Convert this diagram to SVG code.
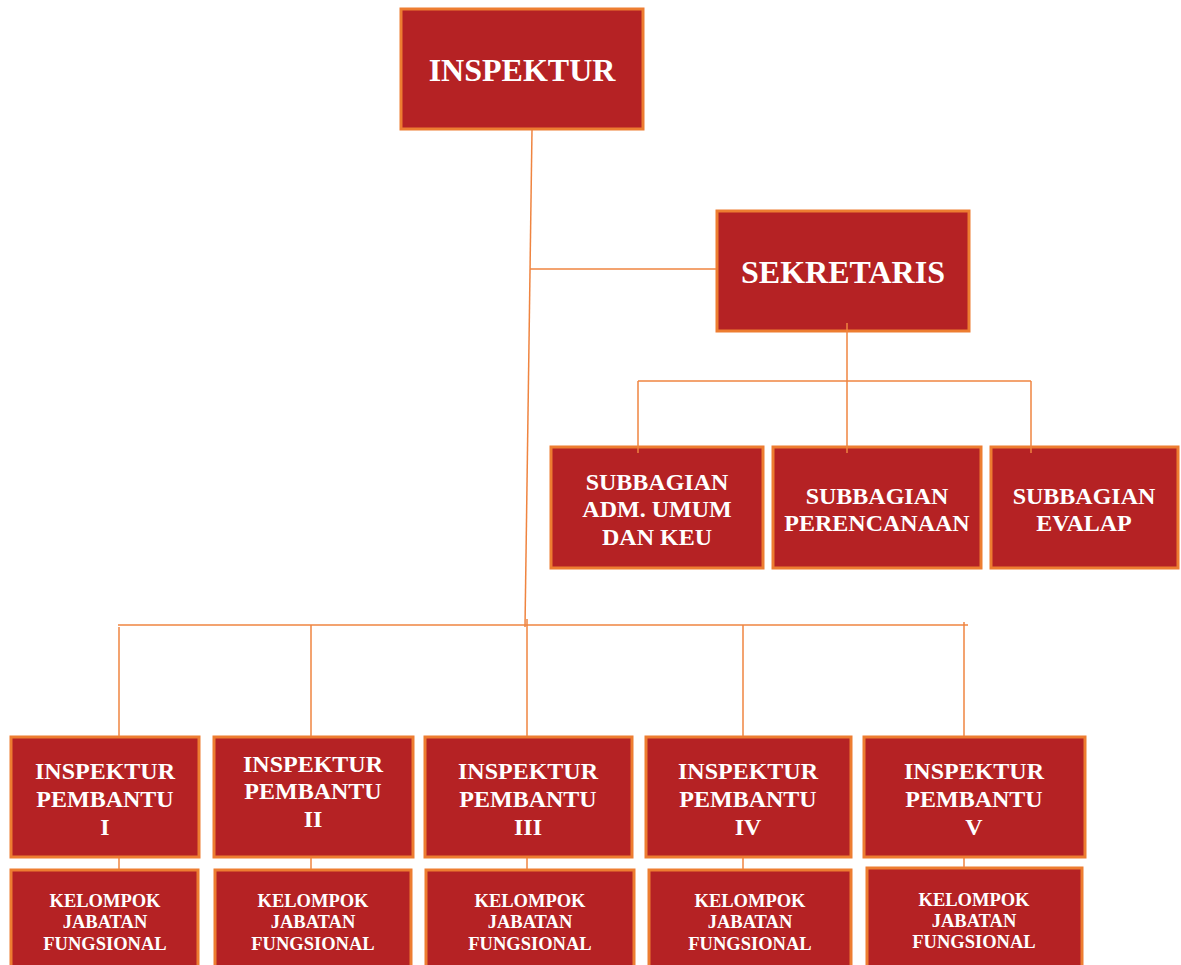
<svg xmlns="http://www.w3.org/2000/svg" width="1181" height="965" viewBox="0 0 1181 965">
<style>
.box{fill:#B52224;stroke:#ED7D31;stroke-width:3}
.t{fill:#fff;font-family:"Liberation Serif","Times New Roman",serif;font-weight:bold;text-anchor:middle}
.big{font-size:32px}
.mid{font-size:24px}
.sm{font-size:18.5px}
.ln{stroke:#EF8440;stroke-width:1.5;fill:none}
</style>
<rect width="1181" height="965" fill="#fff"/>
<g id="inspektur"><rect class="box" x="401" y="9" width="242" height="120"/><text class="t big" x="522" y="81">INSPEKTUR</text></g>
<g id="sekretaris"><rect class="box" x="717" y="211" width="252" height="120"/><text class="t big" x="843" y="283">SEKRETARIS</text></g>
<g id="sub1"><rect class="box" x="551" y="447" width="212" height="121"/><text class="t mid" x="657" y="490">SUBBAGIAN</text><text class="t mid" x="657" y="517">ADM. UMUM</text><text class="t mid" x="657" y="545">DAN KEU</text></g>
<g id="sub2"><rect class="box" x="773" y="447" width="208" height="121"/><text class="t mid" x="877" y="504">SUBBAGIAN</text><text class="t mid" x="877" y="531">PERENCANAAN</text></g>
<g id="sub3"><rect class="box" x="991" y="447" width="187" height="121"/><text class="t mid" x="1084" y="504">SUBBAGIAN</text><text class="t mid" x="1084" y="531">EVALAP</text></g>
<g id="ip1"><rect class="box" x="11" y="737" width="188" height="120"/><text class="t mid" x="105" y="779">INSPEKTUR</text><text class="t mid" x="105" y="807">PEMBANTU</text><text class="t mid" x="105" y="835">I</text></g>
<g id="ip2"><rect class="box" x="214" y="737" width="199" height="120"/><text class="t mid" x="313" y="772">INSPEKTUR</text><text class="t mid" x="313" y="799">PEMBANTU</text><text class="t mid" x="313" y="827">II</text></g>
<g id="ip3"><rect class="box" x="425" y="737" width="207" height="120"/><text class="t mid" x="528" y="779">INSPEKTUR</text><text class="t mid" x="528" y="807">PEMBANTU</text><text class="t mid" x="528" y="835">III</text></g>
<g id="ip4"><rect class="box" x="646" y="737" width="205" height="120"/><text class="t mid" x="748" y="779">INSPEKTUR</text><text class="t mid" x="748" y="807">PEMBANTU</text><text class="t mid" x="748" y="835">IV</text></g>
<g id="ip5"><rect class="box" x="864" y="737" width="221" height="120"/><text class="t mid" x="974" y="779">INSPEKTUR</text><text class="t mid" x="974" y="807">PEMBANTU</text><text class="t mid" x="974" y="835">V</text></g>
<g id="kjf1"><rect class="box" x="11" y="870" width="187" height="110"/><text class="t sm" x="105" y="907">KELOMPOK</text><text class="t sm" x="105" y="928">JABATAN</text><text class="t sm" x="105" y="950">FUNGSIONAL</text></g>
<g id="kjf2"><rect class="box" x="215" y="870" width="196" height="110"/><text class="t sm" x="313" y="907">KELOMPOK</text><text class="t sm" x="313" y="928">JABATAN</text><text class="t sm" x="313" y="950">FUNGSIONAL</text></g>
<g id="kjf3"><rect class="box" x="426" y="870" width="208" height="110"/><text class="t sm" x="530" y="907">KELOMPOK</text><text class="t sm" x="530" y="928">JABATAN</text><text class="t sm" x="530" y="950">FUNGSIONAL</text></g>
<g id="kjf4"><rect class="box" x="649" y="870" width="202" height="110"/><text class="t sm" x="750" y="907">KELOMPOK</text><text class="t sm" x="750" y="928">JABATAN</text><text class="t sm" x="750" y="950">FUNGSIONAL</text></g>
<g id="kjf5"><rect class="box" x="867" y="868" width="215" height="110"/><text class="t sm" x="974" y="906">KELOMPOK</text><text class="t sm" x="974" y="927">JABATAN</text><text class="t sm" x="974" y="948">FUNGSIONAL</text></g>
<g id="connectors">
<path class="ln" d="M532 130 L525 627"/>
<path class="ln" d="M530 269 H716"/>
<path class="ln" d="M847 323 V453"/>
<path class="ln" d="M638 381 H1031"/>
<path class="ln" d="M638 381 V453"/>
<path class="ln" d="M1031 381 V453"/>
<path class="ln" d="M118 625 H968"/>
<path class="ln" d="M119 627 V736"/>
<path class="ln" d="M311 625 V736"/>
<path class="ln" d="M527 619 V736"/>
<path class="ln" d="M743 625 V736"/>
<path class="ln" d="M964 622 V736"/>
<path class="ln" d="M119 858 V869"/>
<path class="ln" d="M311 858 V869"/>
<path class="ln" d="M527 858 V869"/>
<path class="ln" d="M743 858 V869"/>
<path class="ln" d="M964 858 V867"/>
</g>
</svg>
